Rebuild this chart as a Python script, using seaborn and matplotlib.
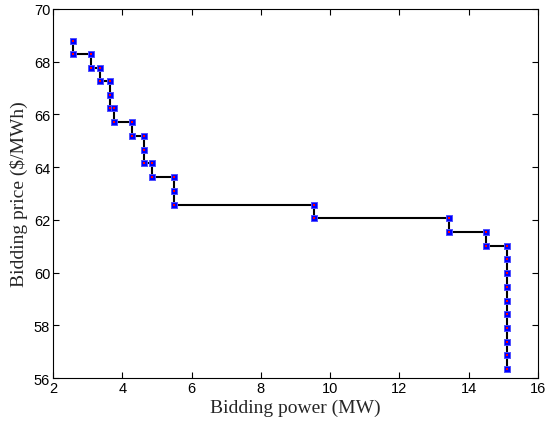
import matplotlib
matplotlib.use("Agg")
import matplotlib.pyplot as plt
import seaborn as sns
import pandas as pd

# staircase bid curve, points in drawing order
power = [2.57, 2.57, 3.10, 3.10, 3.36, 3.36, 3.65, 3.65, 3.65, 3.77, 3.77,
         4.28, 4.28, 4.62, 4.62, 4.62, 4.87, 4.87, 5.49, 5.49, 5.49,
         9.55, 9.55, 13.43, 13.43, 14.49, 14.49,
         15.10, 15.10, 15.10, 15.10, 15.10, 15.10, 15.10, 15.10, 15.10, 15.10]
price = [68.80, 68.30, 68.30, 67.77, 67.77, 67.26, 67.26, 66.73, 66.23, 66.23, 65.70,
         65.70, 65.17, 65.17, 64.64, 64.15, 64.15, 63.61, 63.61, 63.08, 62.55,
         62.55, 62.06, 62.06, 61.54, 61.54, 61.01,
         61.01, 60.51, 59.99, 59.45, 58.92, 58.42, 57.91, 57.38, 56.86, 56.35]
x_ticks = [2, 4, 6, 8, 10, 12, 14, 16]
y_ticks = [56, 58, 60, 62, 64, 66, 68, 70]

df = pd.DataFrame({"power": power, "price": price})

sns.set_style("ticks")
plt.rcParams["font.family"] = ["Liberation Sans", "DejaVu Sans"]

fig = plt.figure(figsize=(5.45, 4.27), dpi=100)
ax = fig.add_axes([0.0972, 0.1124, 0.8898, 0.8642])

sns.lineplot(data=df, x="power", y="price", sort=False, estimator=None,
             color="black", linewidth=1.5, ax=ax)
sns.scatterplot(data=df, x="power", y="price", marker="s", s=20,
                color="blue", edgecolor="#5050ff", linewidth=0.7, ax=ax, zorder=3)
sns.scatterplot(data=df, x="power", y="price", marker="s", s=3,
                color="red", linewidth=0, ax=ax, zorder=4)

ax.set_xlim(2, 16)
ax.set_ylim(56, 70)
ax.set_xticks(x_ticks)
ax.set_yticks(y_ticks)
ax.tick_params(direction="in", length=4, width=0.8, top=True, right=True,
               labelsize=10.5, colors="black", pad=2)
for s in ax.spines.values():
    s.set_linewidth(0.8)
    s.set_color("black")

ax.set_xlabel("Bidding power (MW)", family="Liberation Serif", fontsize=14, labelpad=3)
ax.set_ylabel("Bidding price (\\$/MWh)", family="Liberation Serif", fontsize=14, labelpad=4)

fig.savefig("out.png", dpi=100)
